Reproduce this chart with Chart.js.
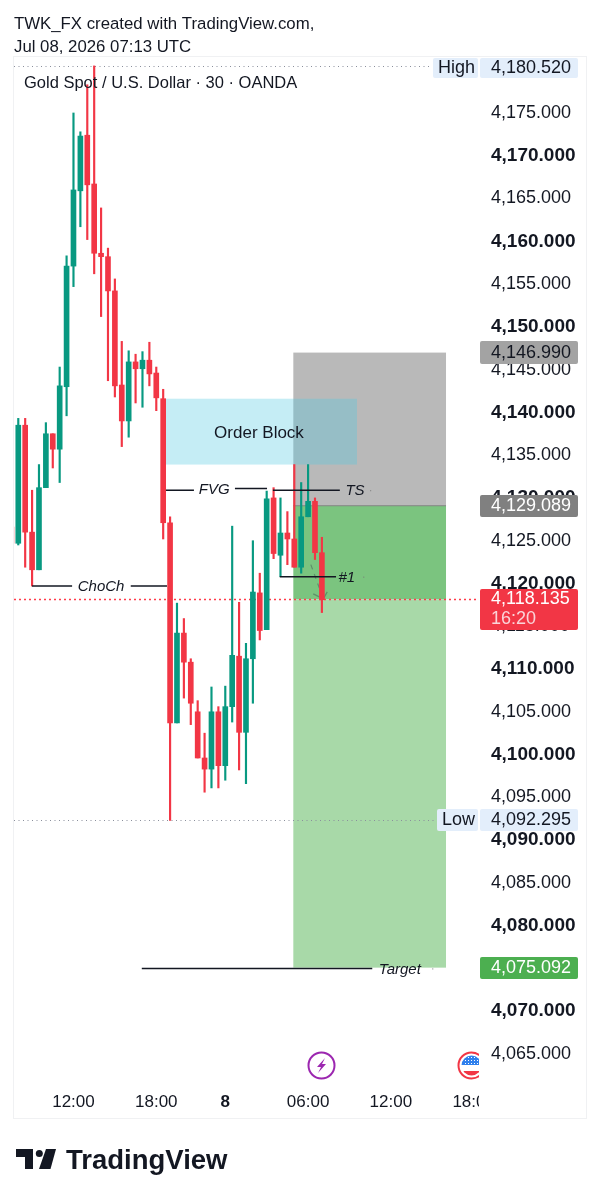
<!DOCTYPE html>
<html>
<head>
<meta charset="utf-8">
<style>html,body{margin:0;padding:0;background:#fff}canvas{display:block}</style>
<script src="https://cdn.jsdelivr.net/npm/chart.js@4"></script>
</head>
<body>
<canvas id="c" width="599" height="1200"></canvas>
<script>
const candleIndex=[-1,0,1,2,3,4,5,6,7,8,9,10,11,12,13,14,15,16,17,18,19,20,21,22,23,24,25,26,27,28,29,30,31,32,33,34,35,36,37,38,39,40,41,42,43,44];
const opens=[4126.6,4124.7,4138.5,4126.0,4121.6,4131.2,4137.5,4135.7,4143.0,4157.1,4165.9,4172.4,4166.7,4158.6,4158.2,4154.2,4143.2,4139.0,4145.9,4145.1,4146.1,4144.6,4141.6,4127.1,4103.7,4114.2,4110.8,4105.0,4099.6,4098.3,4105.0,4098.7,4105.6,4111.5,4102.6,4111.2,4118.9,4114.6,4130.0,4123.3,4125.9,4125.2,4121.9,4127.8,4129.6,4123.6];
const highs=[4126.8,4139.3,4139.3,4130.9,4133.9,4138.8,4137.5,4145.3,4158.3,4175.0,4172.8,4178.3,4180.5,4163.9,4159.2,4155.6,4148.3,4147.2,4146.8,4147.1,4148.2,4145.3,4142.7,4127.8,4117.7,4115.9,4111.2,4106.3,4102.5,4107.9,4105.6,4108.0,4126.7,4117.8,4113.0,4125.0,4121.2,4130.8,4131.2,4130.0,4128.4,4133.9,4131.8,4133.9,4130.0,4125.4];
const lows=[4124.6,4124.5,4121.9,4119.7,4121.6,4131.2,4133.5,4131.8,4139.6,4154.7,4161.7,4160.2,4156.2,4151.2,4143.7,4141.8,4136.0,4137.1,4141.1,4140.6,4143.1,4140.2,4125.2,4092.3,4103.7,4106.6,4103.5,4099.6,4095.6,4096.1,4096.1,4097.0,4103.8,4098.2,4096.6,4106.0,4113.4,4114.6,4122.9,4120.8,4122.2,4121.9,4121.2,4127.8,4122.8,4116.6];
const closes=[4124.7,4138.5,4126.0,4121.6,4131.2,4137.5,4135.7,4143.1,4157.1,4166.0,4172.3,4166.6,4158.6,4158.2,4154.2,4143.1,4139.0,4145.9,4145.1,4146.1,4144.5,4141.7,4127.1,4103.7,4114.2,4110.8,4106.0,4099.6,4098.3,4105.0,4098.7,4105.6,4111.6,4102.6,4111.2,4119.0,4114.5,4129.9,4123.5,4125.9,4125.2,4121.9,4127.8,4129.6,4123.6,4118.1];
const xTickIndex=[8,20,30,42,54,66];
const xTickLabels=['12:00','18:00','8','06:00','12:00','18:00'];
const priceStep=5;
const high=4180.52, low=4092.295, stopLevel=4146.99, entryLevel=4129.089, lastPrice=4118.135, targetLevel=4075.092;
const positionStart=39.86, positionEnd=61.99;
const orderBlock=[21.26,49.09,4141.6,4133.9];
const UP='#089981', DOWN='#F23645';
const SANS='"Liberation Sans", Arial, sans-serif';
const fmt=v=>v.toLocaleString('en-US',{minimumFractionDigits:3,maximumFractionDigits:3});

const trendSegments=[[2,7.8,4119.7,4119.7],[16.3,21.55,4119.7,4119.7],[21.4,25.46,4130.9,4130.9],[31.4,36.05,4131.1,4131.1],[36.9,46.6,4130.9,4130.9],[37.9,46.05,4120.8,4120.8],[17.9,51.3,4075.0,4075.0]];
const segmentLabels=[['ChoCh',12,4119.6],['FVG',28.4,4130.9],['TS',48.8,4130.8],['#1',47.6,4120.7],['Target',55.3,4074.8]];
const labelDots=[[51,4130.9],[50,4120.8],[60,4075.0]];

function box(c,x,y,w,h,col,t,tc,tx){c.fillStyle=col;c.beginPath();c.roundRect(x,y,w,h,2);c.fill();
  if(t){c.fillStyle=tc;c.textAlign='left';c.textBaseline='middle';c.font='18px '+SANS;c.fillText(t,tx,y+h/2+0.5)}}

const overlays={id:'overlays',
 beforeDatasetsDraw(ch){
  const c=ch.ctx,X=ch.scales.x,Y=ch.scales.y,a=ch.chartArea;
  const rect=(x1,x2,v1,v2,col)=>{c.fillStyle=col;c.fillRect(X.getPixelForValue(x1),Y.getPixelForValue(v1),X.getPixelForValue(x2)-X.getPixelForValue(x1),Y.getPixelForValue(v2)-Y.getPixelForValue(v1))};
  c.save();
  rect(positionStart,positionEnd,stopLevel,entryLevel,'rgba(128,128,128,0.55)');
  rect(positionStart,positionEnd,entryLevel,lastPrice,'#7BC47F');
  rect(positionStart,positionEnd,lastPrice,targetLevel,'#A8D9A8');
  rect(orderBlock[0],orderBlock[1],orderBlock[2],orderBlock[3],'rgba(80,200,225,0.33)');
  c.strokeStyle='#808080';c.lineWidth=1;c.beginPath();
  const py=Y.getPixelForValue(entryLevel);c.moveTo(X.getPixelForValue(positionStart),py);c.lineTo(X.getPixelForValue(positionEnd),py);c.stroke();
  // dashed projection arrow
  const ax=X.getPixelForValue(42.4),ay=Y.getPixelForValue(4122.2),bx=X.getPixelForValue(44.2),by=Y.getPixelForValue(4118.2);
  c.strokeStyle='#5f8f6a';c.lineWidth=1.2;c.setLineDash([5,5]);c.beginPath();c.moveTo(ax,ay);c.lineTo(bx,by);c.stroke();c.setLineDash([]);
  c.beginPath();c.moveTo(bx-10,by-5);c.lineTo(bx,by);c.lineTo(bx+4,by-7);c.stroke();
  // dotted levels
  c.lineWidth=1;
  c.strokeStyle='#8a8f9c';c.setLineDash([1,3.5]);
  for(const [v,end] of [[high,432],[low,437]]){const y=Math.round(Y.getPixelForValue(v))+.5;c.beginPath();c.moveTo(a.left,y);c.lineTo(end,y);c.stroke()}
  c.strokeStyle='#FF3B4A';c.lineWidth=1.5;c.setLineDash([2,3]);
  const ly=Math.round(Y.getPixelForValue(lastPrice))+.5;c.beginPath();c.moveTo(a.left,ly);c.lineTo(a.right,ly);c.stroke();
  c.restore();
 },
 afterDatasetsDraw(ch){
  const c=ch.ctx,X=ch.scales.x,Y=ch.scales.y,a=ch.chartArea;
  c.save();
  c.strokeStyle='#131722';c.lineWidth=1.5;
  for(const [x1,x2,v1,v2] of trendSegments){c.beginPath();c.moveTo(X.getPixelForValue(x1),Y.getPixelForValue(v1));c.lineTo(X.getPixelForValue(x2),Y.getPixelForValue(v2));c.stroke()}
  c.fillStyle='#131722';c.textAlign='center';c.textBaseline='middle';
  c.font='italic 15px '+SANS;
  for(const [t,x,v] of segmentLabels)c.fillText(t,X.getPixelForValue(x),Y.getPixelForValue(v));
  c.fillStyle='#777';
  for(const [x,v] of labelDots)c.fillRect(X.getPixelForValue(x),Y.getPixelForValue(v),1,1);
  c.fillStyle='#131722';c.font='17px '+SANS;
  c.fillText('Order Block',X.getPixelForValue((orderBlock[0]+orderBlock[1])/2)-2,Y.getPixelForValue((orderBlock[2]+orderBlock[3])/2)+1.5);
  // event icons, clipped at plot edge
  c.save();c.beginPath();c.rect(a.left,a.top,a.width,a.height);c.clip();
  c.strokeStyle='#9C27B0';c.lineWidth=2;c.beginPath();c.arc(321.5,1065.5,13,0,7);c.stroke();
  c.fillStyle='#9C27B0';c.beginPath();c.moveTo(325,1058);c.lineTo(317,1067);c.lineTo(321,1067);c.lineTo(318,1073);c.lineTo(326,1064);c.lineTo(322,1064);c.closePath();c.fill();
  c.strokeStyle='#F23645';c.lineWidth=2;c.beginPath();c.arc(471.5,1065.5,13,0,7);c.stroke();
  c.beginPath();c.arc(471.5,1065.5,10,0,7);c.save();c.clip();
  c.fillStyle='#fff';c.fillRect(460,1055,24,22);
  c.fillStyle='#2F80ED';c.fillRect(461,1055,22,10);
  c.fillStyle='#F23645';c.fillRect(460,1071,24,5);
  c.fillStyle='#fff';for(let i=0;i<5;i++)for(let j=0;j<3;j++)c.fillRect(465+i*3,1057+j*3,1,1);
  c.restore();c.restore();
  c.restore();
 },
 afterDraw(ch){
  const c=ch.ctx,Y=ch.scales.y;
  c.save();
  // cover time labels beyond the plot
  c.fillStyle='#fff';c.fillRect(479,1085,100,32);
  // frame
  c.strokeStyle='#f0f1f3';c.lineWidth=1;c.strokeRect(13.5,56.5,573,1062);
  // price tags
  const tag=(v,h)=>Math.round(Y.getPixelForValue(v)-h/2);
  box(c,433,58,45,20,'#E3EEFB','High','#131722',438);
  box(c,480,58,98,20,'#E3EEFB',fmt(high),'#131722',491);
  box(c,480,tag(stopLevel,23),98,23,'#A3A3A3',fmt(stopLevel),'#131722',491);
  box(c,480,tag(entryLevel,22),98,22,'#808080',fmt(entryLevel),'#fff',491);
  box(c,480,589,98,41,'#F23645','', '',491);
  c.fillStyle='#fff';c.font='18px '+SANS;c.textAlign='left';c.textBaseline='middle';
  c.fillText(fmt(lastPrice),491,599);c.fillStyle='#FAD4D8';c.fillText('16:20',491,619);
  box(c,437,tag(low,22),41,22,'#E3EEFB','Low','#131722',442);
  box(c,480,tag(low,22),98,22,'#E3EEFB',fmt(low),'#131722',491);
  box(c,480,tag(targetLevel,22),98,22,'#4CAF50',fmt(targetLevel),'#fff',491);
  // header
  c.fillStyle='#131722';c.font='16.8px '+SANS;
  c.fillText('TWK_FX created with TradingView.com,',14,24.5);
  c.fillText('Jul 08, 2026 07:13 UTC',14,47);
  c.font='16.5px '+SANS;c.fillText('Gold Spot / U.S. Dollar · 30 · OANDA',24,83);
  // logo
  c.fillStyle='#131722';
  c.beginPath();c.moveTo(16,1149);c.lineTo(33,1149);c.lineTo(33,1169);c.lineTo(25,1169);c.lineTo(25,1157);c.lineTo(16,1157);c.closePath();c.fill();
  c.beginPath();c.arc(39.3,1153.5,3.5,0,7);c.fill();
  c.beginPath();c.moveTo(46,1149);c.lineTo(56,1149);c.lineTo(50.5,1169);c.lineTo(39,1169);c.closePath();c.fill();
  c.font='bold 27.5px '+SANS;c.fillText('TradingView',66,1161);
  c.restore();
 }
};

new Chart(document.getElementById('c'),{
 type:'bar',
 data:{datasets:[
  {label:'wick',order:2,grouped:false,barThickness:1.5,data:candleIndex.map((x,i)=>({x,y:[lows[i],highs[i]]})),
   backgroundColor:candleIndex.map((x,i)=>closes[i]>=opens[i]?UP:DOWN),borderWidth:0},
  {label:'body',order:1,grouped:false,barThickness:5,data:candleIndex.map((x,i)=>({x,y:[opens[i],closes[i]]})),
   backgroundColor:candleIndex.map((x,i)=>closes[i]>=opens[i]?UP:DOWN),borderWidth:0}
 ]},
 options:{
  responsive:false,animation:false,devicePixelRatio:1,
  layout:{padding:{left:14,top:56,right:0,bottom:0}},
  plugins:{legend:{display:false},tooltip:{enabled:false},title:{display:false}},
  scales:{
   x:{type:'linear',offset:false,min:-0.62,max:66.77,position:'bottom',grid:{display:false,drawTicks:false},border:{display:false},
    afterBuildTicks(s){s.ticks=xTickIndex.map(value=>({value}))},
    afterFit(s){s.height=116},
    ticks:{autoSkip:false,maxRotation:0,minRotation:0,padding:8,color:'#131722',
     font:(ctx)=>({family:SANS,size:17,weight:ctx.tick&&ctx.tick.value===30?'bold':'normal'}),
     callback:(v)=>xTickLabels[xTickIndex.indexOf(v)]}},
   y:{type:'linear',position:'right',min:4061.49,max:4181.66,grid:{display:false,drawTicks:false},border:{display:false},
    afterFit(s){s.width=120},
    ticks:{stepSize:priceStep,includeBounds:false,autoSkip:false,crossAlign:'near',padding:12,color:'#131722',
     font:(ctx)=>{const b=ctx.tick&&ctx.tick.value%10===0;return {family:SANS,size:b?19:18,weight:b?'bold':'normal'}},
     callback:(v)=>fmt(v)}}
  }
 },
 plugins:[overlays]
});
</script>
</body>
</html>
